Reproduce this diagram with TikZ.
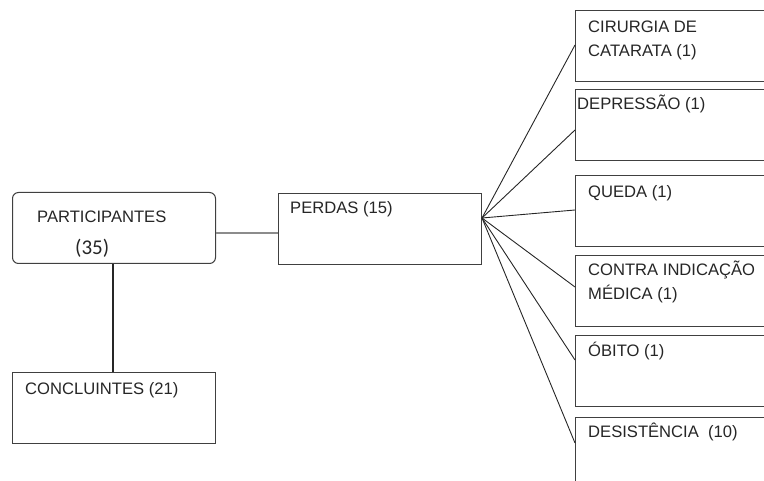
\documentclass[tikz,border=0pt]{standalone}
\usepackage{fontspec}
\setmainfont{Liberation Sans}
\newfontfamily\numfont{Carlito}
\usetikzlibrary{calc}
\tikzset{
  box/.style={draw=black!75, line width=1pt, fill=white, minimum width=203pt, minimum height=71pt, anchor=north west, inner sep=0pt},
  rbox/.style={box, minimum width=220pt, minimum height=71pt},
  txt/.style={anchor=base west, inner sep=0pt, text=black!85, font=\fontsize{16.6}{24}\selectfont, align=left},
  conn/.style={draw=black!85, line width=0.9pt}
}
\begin{document}
\begin{tikzpicture}[x=1pt,y=-1pt]
\useasboundingbox (0,0) rectangle (764,481);
\clip (0,0) rectangle (764,481);
% boxes
\node[box, rounded corners=6pt] (part) at (12,192) {};
\node[box] (conc) at (12,372) {};
\node[box] (perd) at (278,193) {};
\node[rbox] (b1) at (575,10) {};
\node[rbox] (b2) at (575,89) {};
\node[rbox] (b3) at (575,175) {};
\node[rbox] (b4) at (575,255) {};
\node[rbox] (b5) at (575,335) {};
\node[rbox] (b6) at (575,417) {};
% texts
\node[txt] (tpart) at ($(part.north west)+(25,31)$) {PARTICIPANTES};
\node[txt, font=\numfont\fontsize{21}{24}\selectfont] (tnum) at ($(part.north west)+(63,63)$) {(35)};
\node[txt] (tconc) at ($(conc.north west)+(13,23)$) {CONCLUINTES (21)};
\node[txt] (tperd) at ($(perd.north west)+(12,21)$) {PERDAS (15)};
\node[txt] (t1) at ($(b1.north west)+(13,47)$) {CIRURGIA DE\\CATARATA (1)};
\node[txt] (t2) at ($(b2.north west)+(2,21)$) {DEPRESSÃO (1)};
\node[txt] (t3) at ($(b3.north west)+(13,23)$) {QUEDA (1)};
\node[txt] (t4) at ($(b4.north west)+(13,45)$) {CONTRA INDICAÇÃO\\MÉDICA (1)};
\node[txt] (t5) at ($(b5.north west)+(13,22)$) {ÓBITO (1)};
\node[txt] (t6) at ($(b6.north west)+(13,20)$) {DESISTÊNCIA~ (10)};
% connectors
\draw[draw=black!45, line width=1.8pt] ($(part.north east)+(0,41)$) -- ($(perd.north west)+(0,40)$);
\draw[conn, line width=1.2pt] ($(part.south west)+(101,0)$) -- ($(conc.north west)+(101,0)$);
\coordinate (fan) at ($(perd.north east)+(0,25)$);
\draw[conn] (fan) -- ($(b1.north west)+(0,35)$);
\draw[conn] (fan) -- ($(b2.north west)+(0,41)$);
\draw[conn] (fan) -- ($(b3.north west)+(0,35)$);
\draw[conn] (fan) -- ($(b4.north west)+(0,32)$);
\draw[conn] (fan) -- ($(b5.north west)+(0,25)$);
\draw[conn] (fan) -- ($(b6.north west)+(0,26)$);
\end{tikzpicture}
\end{document}
